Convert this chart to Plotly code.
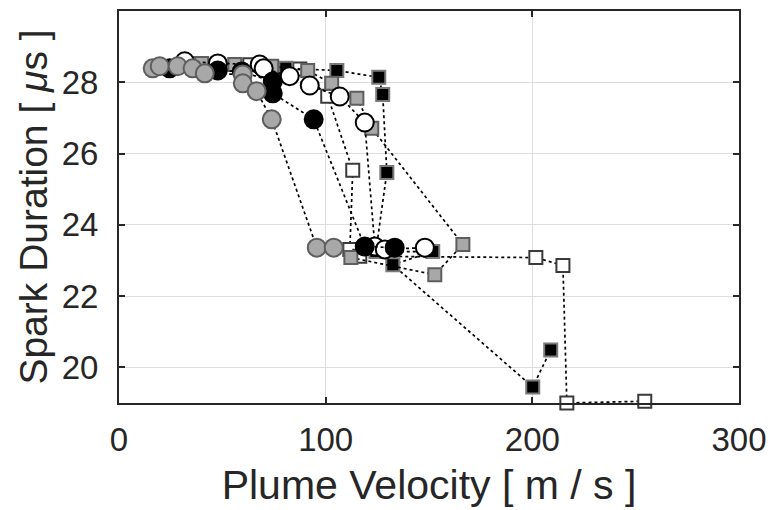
import plotly.graph_objects as go

# ---- data ----
gc_x = [16.3, 19.7, 28.4, 35.6, 41.5, 59.9, 59.9, 66.6, 73.9, 95.7, 103.9]
gc_y = [28.39, 28.45, 28.45, 28.39, 28.25, 28.22, 27.97, 27.75, 26.96, 23.36, 23.36]

bc_x = [24.5, 47.8, 59.4, 74.4, 74.4, 94.2, 118.9, 133.4]
bc_y = [28.39, 28.33, 28.30, 28.02, 27.69, 26.96, 23.39, 23.36]

wc_x = [31.8, 47.8, 68.1, 70.0, 82.6, 92.3, 106.8, 118.9, 123.8, 128.6, 148.0]
wc_y = [28.59, 28.53, 28.50, 28.39, 28.17, 27.91, 27.60, 26.87, 23.39, 23.31, 23.36]

gs_x = [40.0, 56.0, 73.9, 91.3, 102.9, 115.1, 122.3, 166.4, 152.8, 112.2]
gs_y = [28.53, 28.50, 28.45, 28.33, 27.97, 27.55, 26.71, 23.45, 22.60, 23.08]

bs_x = [80.7, 105.4, 125.7, 127.6, 129.6, 124.3, 151.8, 132.5, 200.2, 208.9]
bs_y = [28.39, 28.33, 28.14, 27.66, 25.47, 23.25, 23.25, 22.88, 19.45, 20.49]

ws_x = [39.1, 63.3, 87.5, 101.0, 113.1, 111.7, 116.5, 201.7, 214.8, 216.7, 254.4]
ws_y = [28.52, 28.49, 28.37, 27.61, 25.53, 23.31, 23.12, 23.08, 22.86, 19.0, 19.05]

x_ticks = [0, 100, 200, 300]
y_ticks = [20, 22, 24, 26, 28]

FONT = "Liberation Sans, Arial, sans-serif"

fig = go.Figure()

def add(x, y, symbol, size, fill, edge, lw):
    fig.add_trace(go.Scatter(
        x=x, y=y, mode="lines+markers",
        line=dict(color="black", width=1.7, dash="dot"),
        marker=dict(symbol=symbol, size=size, color=fill,
                    line=dict(color=edge, width=lw)),
        cliponaxis=False, showlegend=False, hoverinfo="x+y"))

# drawing order: white squares, black squares, gray squares, white circles, black circles, gray circles
add(ws_x, ws_y, "square", 13, "white", "#3a3a3a", 2)
add(bs_x, bs_y, "square", 13, "black", "#7a7a7a", 2)
add(gs_x, gs_y, "square", 13, "#a8a8a8", "#5e5e5e", 2)
add(wc_x, wc_y, "circle", 18, "white", "black", 2)
add(bc_x, bc_y, "circle", 18, "black", "black", 2)
add(gc_x, gc_y, "circle", 18, "#a8a8a8", "#5e5e5e", 2)

axis_common = dict(
    showline=True, linecolor="#262626", linewidth=2, mirror="ticks",
    ticks="inside", ticklen=6, tickwidth=1.5, tickcolor="#262626",
    showgrid=True, gridcolor="#dedede", gridwidth=1, zeroline=False,
    automargin=False,
    tickfont=dict(family=FONT, size=33, color="#262626"),
)

fig.update_layout(
    width=771, height=510,
    margin=dict(l=119, r=32, t=11, b=107),
    paper_bgcolor="white", plot_bgcolor="white",
    xaxis=dict(range=[0, 300], tickvals=x_ticks, ticktext=[str(v) for v in x_ticks],
               ticklabelstandoff=6,
               title=dict(text="Plume Velocity [ m / s ]",
                          font=dict(family=FONT, size=41, color="#262626"), standoff=14),
               **axis_common),
    yaxis=dict(range=[19, 30], tickvals=y_ticks, ticktext=[str(v) for v in y_ticks],
               ticklabelstandoff=12,
               title=dict(text="Spark Duration [ <i>μ</i>s ]",
                          font=dict(family=FONT, size=39, color="#262626"), standoff=2),
               **axis_common),
)

fig.write_html("out.html")
